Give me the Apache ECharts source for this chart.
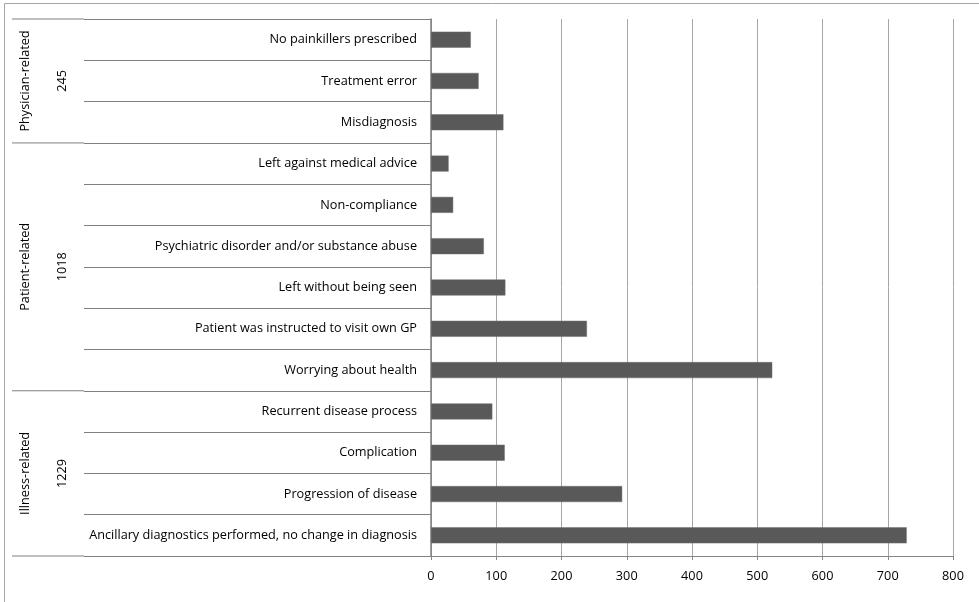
<!DOCTYPE html>
<html>
<head>
<meta charset="utf-8">
<script src="https://cdn.jsdelivr.net/npm/echarts@6/dist/echarts.min.js"></script>
<style>
  html, body { margin: 0; padding: 0; background: #fff; }
  #chart { width: 979px; height: 602px; }
</style>
</head>
<body>
<div id="chart"></div>
<script>
// Reasons for return visits, listed top to bottom
const categories = [
  'No painkillers prescribed',
  'Treatment error',
  'Misdiagnosis',
  'Left against medical advice',
  'Non-compliance',
  'Psychiatric disorder and/or substance abuse',
  'Left without being seen',
  'Patient was instructed to visit own GP',
  'Worrying about health',
  'Recurrent disease process',
  'Complication',
  'Progression of disease',
  'Ancillary diagnostics performed, no change in diagnosis'
];
const counts = [61, 73, 111, 27, 34, 81, 114, 239, 523, 94, 113, 293, 729];

// Category groups: name, total, number of rows they span
const groupNames = ['Physician-related', 'Patient-related', 'Illness-related'];
const groupTotals = ['245', '1018', '1229'];
const groupSizes = [3, 6, 4];

const xTicks = { min: 0, max: 800, interval: 100 };

const FONT = '"Open Sans", "Noto Sans", sans-serif';
const FS = 12.7;
const chart = echarts.init(document.getElementById('chart'), null, { renderer: 'canvas' });

const GRID = { left: 431, right: 26, top: 19, bottom: 46 };

chart.setOption({
  animation: false,
  backgroundColor: '#fff',
  grid: GRID,
  xAxis: {
    type: 'value',
    min: xTicks.min, max: xTicks.max, interval: xTicks.interval,
    axisLine: { show: true, lineStyle: { color: '#868686', width: 1 } },
    axisTick: { show: true, length: 4, lineStyle: { color: '#868686' } },
    axisLabel: { color: '#000', fontSize: FS, fontFamily: FONT, margin: 14 },
    splitLine: { show: true, lineStyle: { color: '#a6a6a6', width: 1 } }
  },
  yAxis: {
    type: 'category',
    inverse: true,
    data: categories,
    axisLine: { show: true, lineStyle: { color: '#7f7f7f', width: 1.5 } },
    axisTick: { show: true, length: 347, lineStyle: { color: '#808080', width: 1 } },
    axisLabel: { color: '#000', fontSize: FS, fontFamily: FONT, margin: 14 },
    splitLine: { show: false }
  },
  series: [{
    type: 'bar',
    data: counts,
    barWidth: 16,
    itemStyle: { color: '#595959', borderColor: '#6e6e6e', borderWidth: 0.5 }
  }]
});

// Group dividers and vertical group captions on the left of the category axis
function drawGroups() {
  const elements = [];
  const half = (chart.convertToPixel({ yAxisIndex: 0 }, 1) - chart.convertToPixel({ yAxisIndex: 0 }, 0)) / 2;
  const x0 = 12, x1 = 84;
  let start = 0;
  const edgeY = idx => chart.convertToPixel({ yAxisIndex: 0 }, idx) - half;
  elements.push({ type: 'line', shape: { x1: x0, y1: edgeY(0), x2: x1, y2: edgeY(0) },
    style: { stroke: '#808080', lineWidth: 1 } });
  groupSizes.forEach((n, g) => {
    const end = start + n - 1;
    const bottom = chart.convertToPixel({ yAxisIndex: 0 }, end) + half;
    const mid = (chart.convertToPixel({ yAxisIndex: 0 }, start) + chart.convertToPixel({ yAxisIndex: 0 }, end)) / 2;
    elements.push({ type: 'line', shape: { x1: x0, y1: bottom, x2: x1, y2: bottom },
      style: { stroke: '#808080', lineWidth: 1 } });
    elements.push({ type: 'text', x: 25, y: mid, rotation: Math.PI / 2,
      style: { text: groupNames[g], fill: '#000', font: FS + 'px ' + FONT, align: 'center', verticalAlign: 'middle' } });
    elements.push({ type: 'text', x: 62, y: mid, rotation: Math.PI / 2,
      style: { text: groupTotals[g], fill: '#000', font: FS + 'px ' + FONT, align: 'center', verticalAlign: 'middle' } });
    start += n;
  });
  // chart frame
  elements.push({ type: 'rect', shape: { x: 4.5, y: 3.5, width: 990, height: 610 },
    style: { fill: null, stroke: '#a6a6a6', lineWidth: 1 } });
  chart.setOption({ graphic: { elements } });
}
drawGroups();
</script>
</body>
</html>
